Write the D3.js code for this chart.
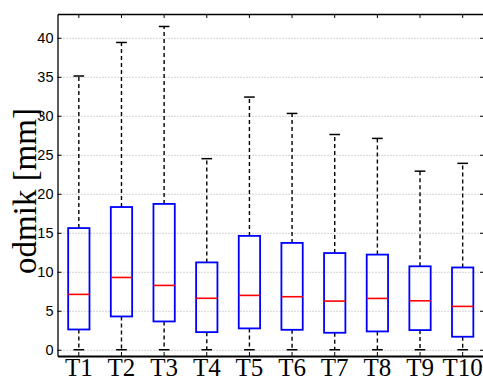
<!DOCTYPE html>
<html>
<head>
<meta charset="utf-8">
<script src="https://cdn.jsdelivr.net/npm/d3@7"></script>
<style>
  html, body { margin: 0; padding: 0; background: #fff; }
  svg { display: block; }
</style>
</head>
<body>
<svg id="chart" width="483" height="379"></svg>
<script>
// ---- data ----
const categories = ["T1","T2","T3","T4","T5","T6","T7","T8","T9","T10"];
const whiskerLow  = [0, 0, 0, 0, 0, 0, 0, 0, 0, 0];
const q1          = [2.6, 4.27, 3.63, 2.26, 2.74, 2.56, 2.18, 2.35, 2.52, 1.67];
const medians     = [7.1, 9.27, 8.25, 6.6, 6.97, 6.8, 6.24, 6.58, 6.28, 5.56];
const q3          = [15.6, 18.3, 18.7, 11.2, 14.6, 13.7, 12.4, 12.2, 10.7, 10.55];
const whiskerHigh = [35.1, 39.4, 41.45, 24.5, 32.4, 30.3, 27.6, 27.1, 22.9, 23.9];
const yTicks = [0, 5, 10, 15, 20, 25, 30, 35, 40];
const yLabel = "odmik [mm]";

const rows = categories.map((c, i) => ({
  cat: c, lo: whiskerLow[i], q1: q1[i], med: medians[i], q3: q3[i], hi: whiskerHigh[i]
}));

// ---- layout ----
const mLeft = 57.5, mRight = 484, mTop = 14, mBottom = 356;
const svg = d3.select("#chart");

const x = d3.scaleBand().domain(categories).range([mLeft, mRight]).padding(0);
const y = d3.scaleLinear().domain([-0.8, 43.05]).range([mBottom, mTop]);
const bw = x.bandwidth();
const cx = c => x(c) + bw / 2;

// grid lines (dotted)
const grid = svg.append("g")
  .attr("transform", `translate(${mLeft},0)`)
  .call(d3.axisLeft(y).tickValues(yTicks).tickSize(-(mRight - mLeft)).tickFormat(""));
grid.select(".domain").remove();
grid.selectAll("line").attr("stroke", "#a8a8a8").attr("stroke-width", 1).attr("stroke-dasharray", "1,2");

// whiskers
const g = svg.append("g");
g.selectAll("line.wu").data(rows).join("line")
  .attr("x1", d => cx(d.cat)).attr("x2", d => cx(d.cat))
  .attr("y1", d => y(d.q3)).attr("y2", d => y(d.hi))
  .attr("stroke", "#000").attr("stroke-width", 1.4).attr("stroke-dasharray", "4,3");
g.selectAll("line.wl").data(rows).join("line")
  .attr("x1", d => cx(d.cat)).attr("x2", d => cx(d.cat))
  .attr("y1", d => y(d.q1)).attr("y2", d => y(d.lo))
  .attr("stroke", "#000").attr("stroke-width", 1.4).attr("stroke-dasharray", "4,3");
// caps
g.selectAll("line.ch").data(rows).join("line")
  .attr("x1", d => cx(d.cat) - bw * 0.125).attr("x2", d => cx(d.cat) + bw * 0.125)
  .attr("y1", d => y(d.hi)).attr("y2", d => y(d.hi))
  .attr("stroke", "#000").attr("stroke-width", 1.5);
g.selectAll("line.cl").data(rows).join("line")
  .attr("x1", d => cx(d.cat) - bw * 0.125).attr("x2", d => cx(d.cat) + bw * 0.125)
  .attr("y1", d => y(d.lo)).attr("y2", d => y(d.lo))
  .attr("stroke", "#000").attr("stroke-width", 1.5);
// boxes
g.selectAll("rect.box").data(rows).join("rect")
  .attr("x", d => cx(d.cat) - bw * 0.25).attr("width", bw * 0.5)
  .attr("y", d => y(d.q3)).attr("height", d => y(d.q1) - y(d.q3))
  .attr("fill", "none").attr("stroke", "#0000ff").attr("stroke-width", 1.8);
// medians
g.selectAll("line.med").data(rows).join("line")
  .attr("x1", d => cx(d.cat) - bw * 0.25).attr("x2", d => cx(d.cat) + bw * 0.25)
  .attr("y1", d => y(d.med)).attr("y2", d => y(d.med))
  .attr("stroke", "#ff0000").attr("stroke-width", 1.6);

// axes (ticks inside, MATLAB style)
const axL = svg.append("g").attr("transform", `translate(${mLeft},0)`)
  .call(d3.axisLeft(y).tickValues(yTicks).tickSizeInner(-4).tickSizeOuter(0).tickPadding(4));
axL.select(".domain").attr("stroke-width", 1.3);
axL.selectAll("text").attr("font-family", "Liberation Sans, Arial, sans-serif").attr("font-size", 14.5).attr("fill", "#000");

const axR = svg.append("g").attr("transform", `translate(${mRight},0)`)
  .call(d3.axisRight(y).tickValues(yTicks).tickSizeInner(-4).tickSizeOuter(0).tickFormat(""));
axR.select(".domain").attr("stroke-width", 1.3);

const axT = svg.append("g").attr("transform", `translate(0,${mTop})`)
  .call(d3.axisTop(x).tickSizeInner(-4).tickSizeOuter(0).tickFormat(""));
axT.select(".domain").attr("stroke-width", 1.3);

const axB = svg.append("g").attr("transform", `translate(0,${mBottom})`)
  .call(d3.axisBottom(x).tickSizeInner(-4).tickSizeOuter(0));
axB.select(".domain").attr("stroke-width", 2);
axB.selectAll("text")
  .attr("font-family", "Liberation Serif, Times New Roman, serif")
  .attr("font-size", 25).attr("fill", "#000")
  .attr("y", 19.5).attr("dy", 0);

// y label
svg.append("text")
  .attr("transform", `translate(36,191) rotate(-90)`)
  .attr("text-anchor", "middle")
  .attr("font-family", "Liberation Serif, Times New Roman, serif")
  .attr("font-size", 33)
  .attr("fill", "#000")
  .text(yLabel);
</script>
</body>
</html>
